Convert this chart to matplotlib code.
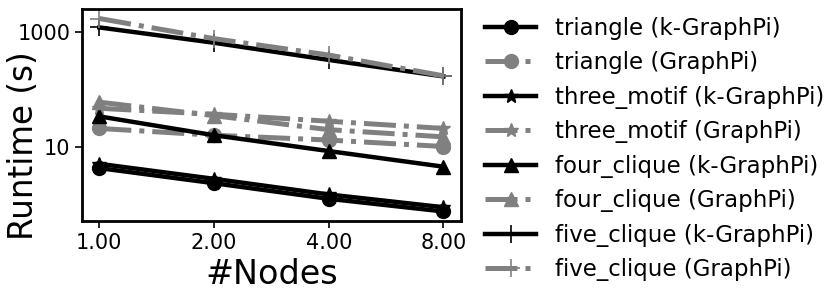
import matplotlib
matplotlib.use("Agg")
import matplotlib.pyplot as plt
from matplotlib.ticker import NullLocator

nodes = [1, 2, 4, 8]

triangle_k = [4.3, 2.35, 1.26, 0.76]
triangle_g = [21, 16, 13.2, 10.2]
three_motif_k = [5.1, 2.8, 1.5, 0.9]
three_motif_g = [47, 37, 28, 21]
four_clique_k = [34, 16, 8.5, 4.55]
four_clique_g = [60, 35, 20, 15]
five_clique_k = [1190, 645, 325, 168]
five_clique_g = [1700, 760, 395, 172]

series = [
    ("triangle (k-GraphPi)", triangle_k, "o", "black", "-"),
    ("triangle (GraphPi)", triangle_g, "o", "gray", "-."),
    ("three_motif (k-GraphPi)", three_motif_k, "*", "black", "-"),
    ("three_motif (GraphPi)", three_motif_g, "*", "gray", "-."),
    ("four_clique (k-GraphPi)", four_clique_k, "^", "black", "-"),
    ("four_clique (GraphPi)", four_clique_g, "^", "gray", "-."),
    ("five_clique (k-GraphPi)", five_clique_k, "+", "black", "-"),
    ("five_clique (GraphPi)", five_clique_g, "+", "gray", "-."),
]

xtick_labels = ["1.00", "2.00", "4.00", "8.00"]
yticks = [10, 1000]

fig = plt.figure(figsize=(8.3, 2.96), dpi=100)
ax = fig.add_axes([0.099, 0.253, 0.456, 0.717])

for label, vals, marker, color, ls in series:
    lw = 3.2 if color == "black" else 3.6
    ms = 13 if marker == "+" else 10
    mew = 1.2 if marker == "+" else 1
    ax.plot(nodes, vals, marker=marker, color=color, linestyle=ls,
            linewidth=lw, markersize=ms, markeredgewidth=mew, label=label)

ax.set_xscale("log", base=2)
ax.set_yscale("log")
ax.set_xticks(nodes)
ax.set_xticklabels(xtick_labels)
ax.set_yticks(yticks)
ax.set_yticklabels([str(v) for v in yticks])
ax.xaxis.set_minor_locator(NullLocator())
ax.yaxis.set_minor_locator(NullLocator())
ax.tick_params(labelsize=15, length=5, width=1.2)
for sp in ax.spines.values():
    sp.set_linewidth(2)

ax.set_xlabel("#Nodes", fontsize=24, labelpad=4)
ax.set_ylabel("Runtime (s)", fontsize=23.5)
ax.yaxis.set_label_coords(-0.111, 0.358)

fig.legend(loc="center left", bbox_to_anchor=(0.573, 0.497), frameon=False,
           fontsize=16.5, borderaxespad=0, handlelength=2.25)

fig.savefig("out.png", dpi=100)
